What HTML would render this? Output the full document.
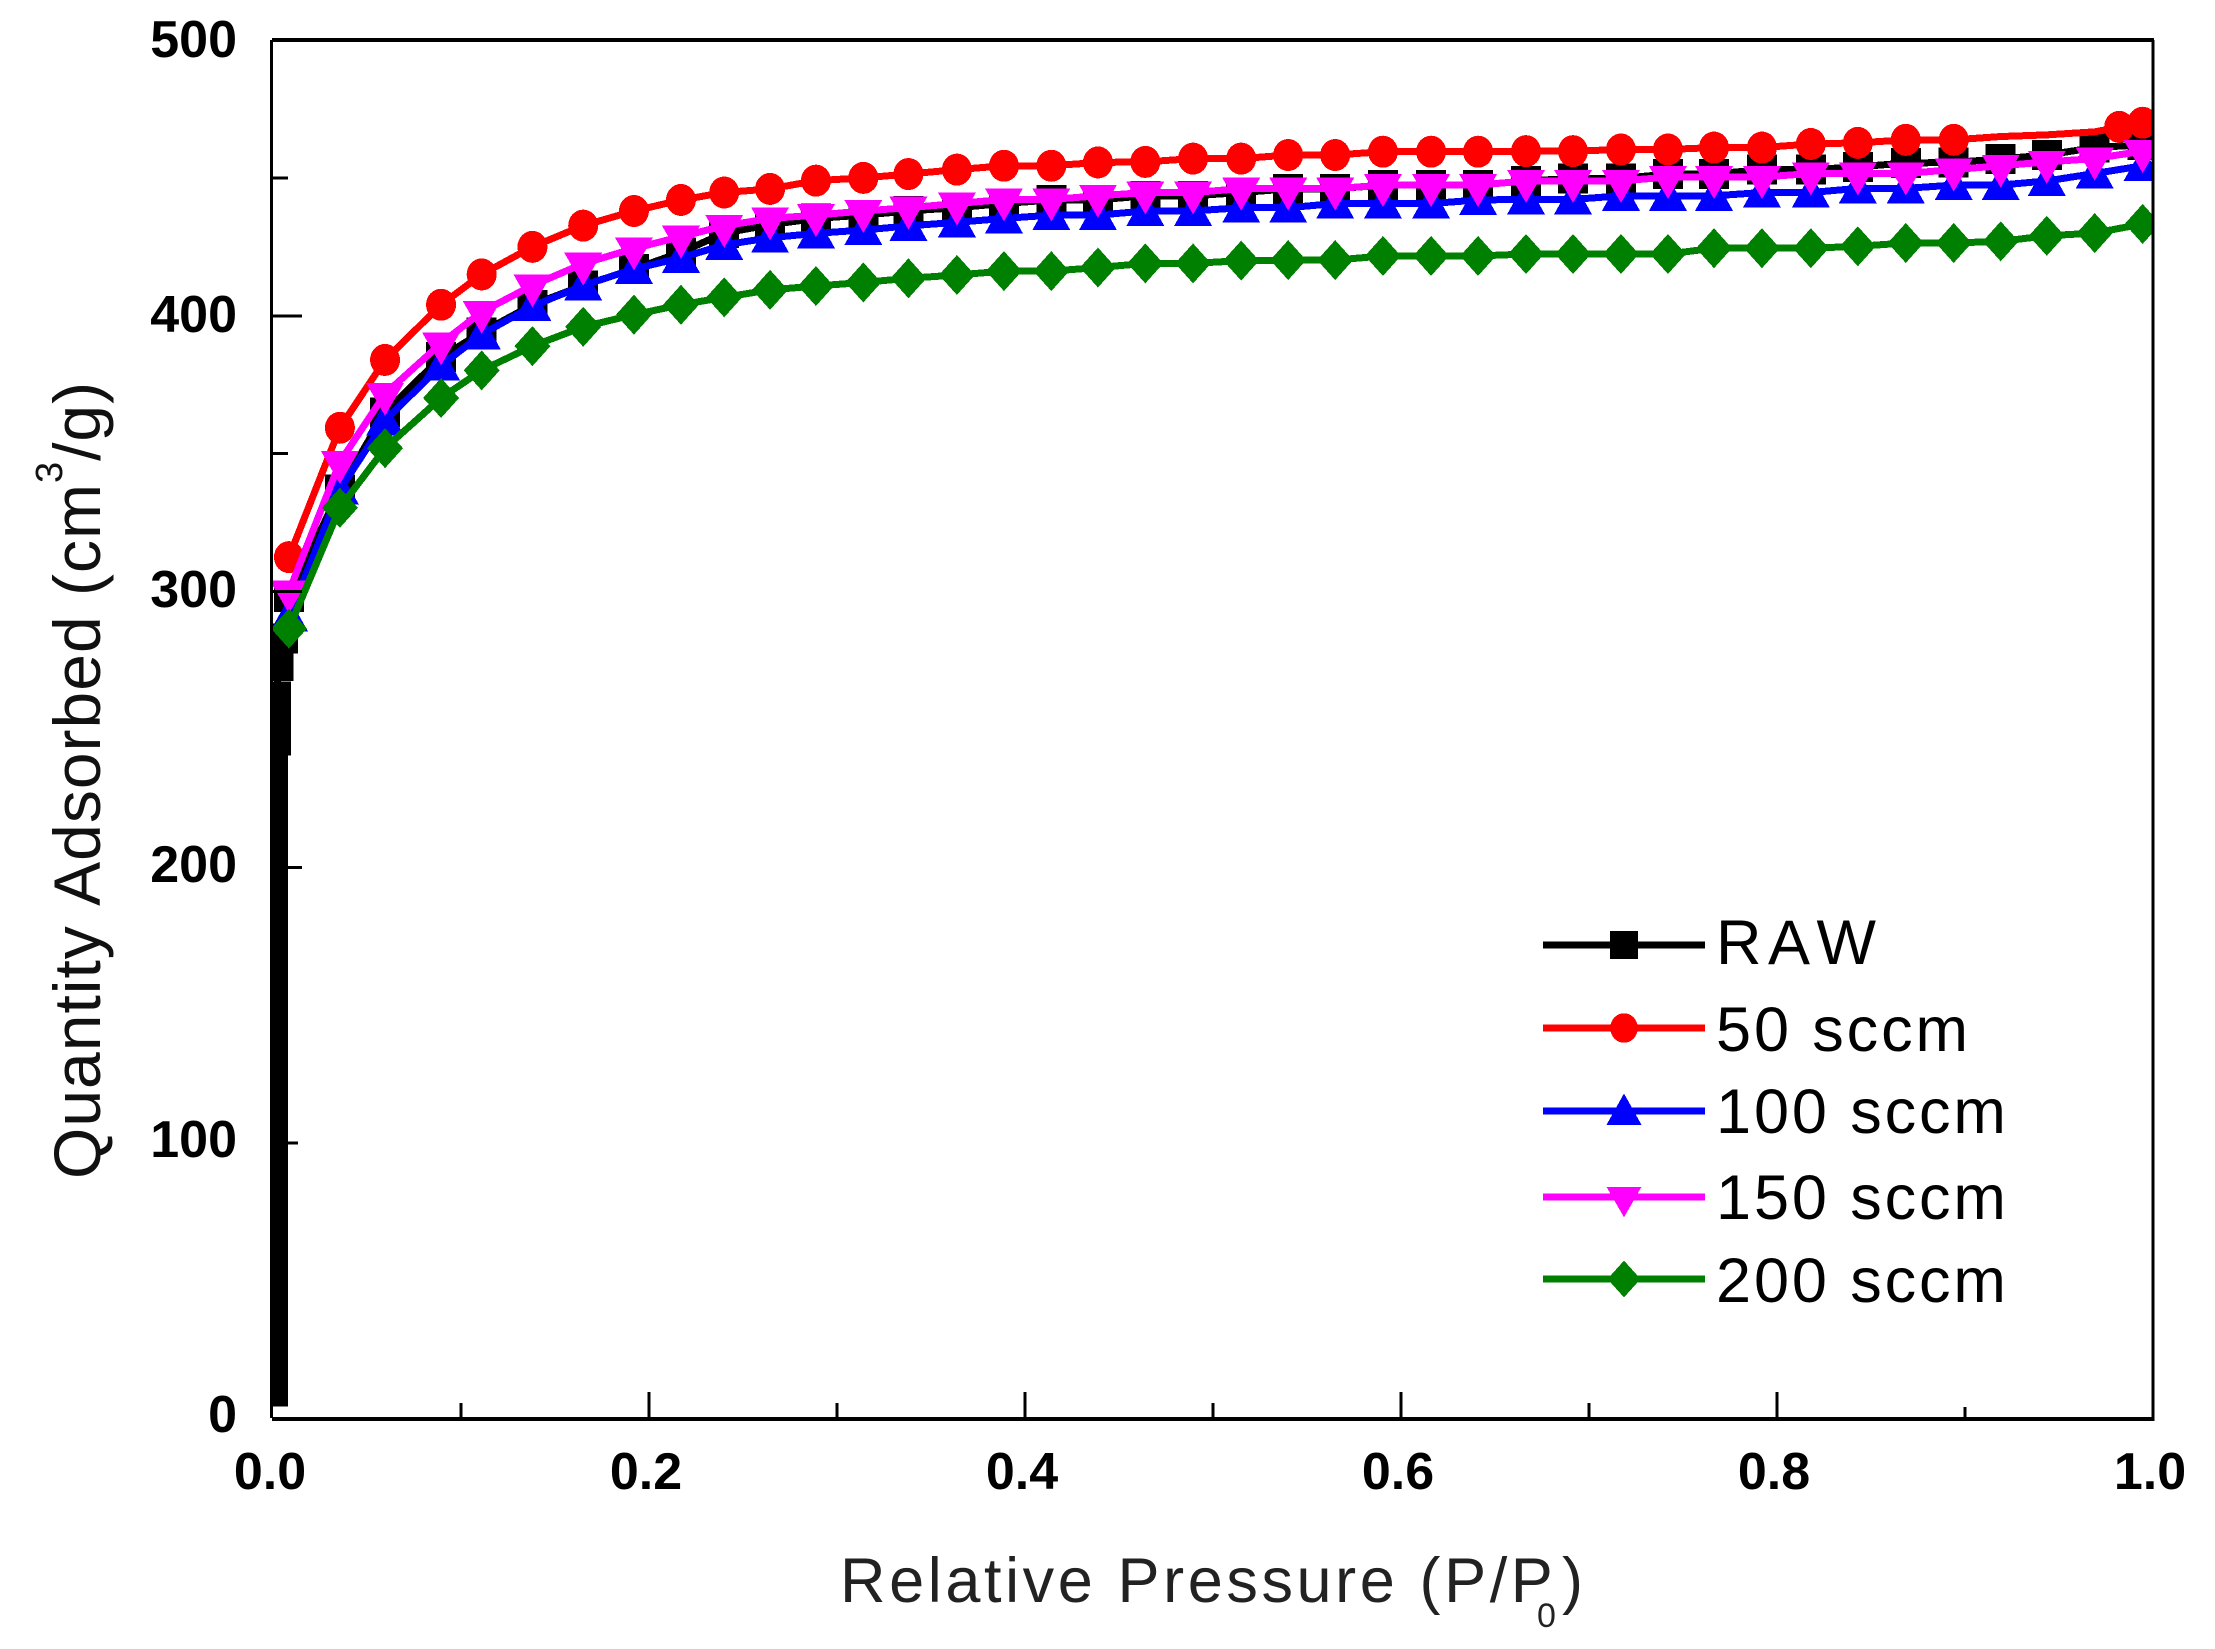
<!DOCTYPE html>
<html lang="en">
<head>
<meta charset="utf-8">
<title>Nitrogen adsorption isotherms</title>
<style>
html,body{margin:0;padding:0;background:#fff;width:2215px;height:1649px;overflow:hidden}
svg{display:block;position:absolute;left:0;top:0}
text{font-family:"Liberation Sans",Arial,sans-serif;font-kerning:none}
</style>
</head>
<body>
<svg id="chart" xmlns="http://www.w3.org/2000/svg" width="2215" height="1649" viewBox="0 0 2215 1649">
  <rect x="0" y="0" width="2215" height="1649" fill="#fff"/>
  <defs>
    <clipPath id="plot-clip"><rect x="272" y="40" width="1880" height="1379"/></clipPath>
  </defs>
  <g id="series-layer" clip-path="url(#plot-clip)"></g>
  <g id="axis-layer"></g>
  <text transform="translate(100,1179) rotate(-90)" font-size="66" letter-spacing="1" fill="#111">Quantity Adsorbed (cm<tspan font-size="38" dy="-38">3</tspan><tspan dy="38">/g)</tspan></text>
  <text font-size="63" letter-spacing="3.6" fill="#222"><tspan x="840" y="1602">Relative Pressure (P/P</tspan><tspan x="1537" y="1627" font-size="34" letter-spacing="0">0</tspan><tspan x="1562" y="1602">)</tspan></text>
  <g id="legend"></g>
</svg>
<script>
const SVG_NS = 'http://www.w3.org/2000/svg';

// ---- Chart data ----
const xMajorTicks = [0, 0.2, 0.4, 0.6, 0.8, 1.0];
const xMinorTicks = [0.1, 0.3, 0.5, 0.7, 0.9];
const xTickLabels = ['0.0', '0.2', '0.4', '0.6', '0.8', '1.0'];
const yMajorTicks = [0, 100, 200, 300, 400, 500];
const yMinorTicks = [50, 150, 250, 350, 450];
const yTickLabels = ['0', '100', '200', '300', '400', '500'];

const pressure = [0.0085,0.0356,0.0596,0.0894,0.111,0.138,0.165,0.192,0.217,0.240,0.2644,0.2888,0.314,0.338,0.3638,0.3888,0.414,0.4388,0.464,0.4894,0.515,0.540,0.565,0.5904,0.616,0.641,0.6665,0.6915,0.717,0.742,0.7665,0.792,0.818,0.843,0.8685,0.894,0.919,0.9435,0.969,0.9945];
const rawLowPressure = [0.0001,0.0001,0.0001,0.0001,0.0001,0.0001,0.0001,0.0001,0.0001,0.0001,0.0001,0.0001,0.0001,0.0001,0.0001,0.0001,0.0001,0.0001,0.0001,0.0001,0.0001,0.0001,0.0001,0.0001,0.0001,0.0016,0.0016,0.0016,0.003,0.0053];
const rawLowValues = [10,19,29,38,48,57,67,76,86,96,105,115,125,134,144,154,164,173,183,193,202,211,220,229,238,246,254,262,273,283];

const rawValues = [298,337,365,385,394,404,411,417,423,430,433,435.3,436.5,438,439.2,440.7,442,442,443.5,443.5,444.7,446,446,447.4,447.4,447.4,448.9,449.8,449.8,451.4,451.4,453,453,454,455.4,455.6,456.9,458.3,461,462];
const sccm50Values = [312.5,359.4,384,404,415,425,432.7,438,442,444.7,446,449,450,451.4,453,454.4,454.4,455.6,455.8,457,457,458.3,458.3,459.5,459.5,459.5,459.7,459.7,460.3,460.3,461,461,462.3,462.7,463.8,463.8,465,465.6,466.7,470];
const sccm50EndPressure = [0.982, 0.9945];
const sccm50EndValues = [468.5, 470];
const sccm100Values = [291,337,362,382,393.3,403.5,411,417,421,425.7,428.3,429.9,431.1,432.6,433.9,435.3,436.5,436.5,438,438,439.2,439.2,440.7,440.7,440.7,442,442.2,442.2,443.5,443.5,443.5,444.7,444.7,446.2,446.2,447.4,447.4,448.9,451.6,454.4];
const sccm150Values = [300,347,371.7,390,401.4,411,418.9,424.4,428.7,432.6,435.3,436.5,438,439.2,440.7,442.2,442.2,443.5,444.7,444.7,446.1,446.1,446.1,447.4,447.4,447.4,448.9,448.9,448.9,450.3,450.3,450.3,451.6,451.6,451.6,453,454.4,455.8,457,459.7];
const sccm200Values = [286.6,330.4,352,370.2,380.2,389,396,400.4,404,406.7,409.4,410.8,412.1,413.6,414.8,416.2,416.2,417.5,419,419,420,420.2,420.2,421.7,421.7,421.7,422.4,422.4,422.4,422.4,424.5,424.5,424.5,425.2,426.4,426.4,427,429,430,433.3];

// Indices of the 50 sccm points whose markers do not show in the picture
const sccm50HiddenMarkers = [36, 37, 38, 39];

const legendLabels = ['RAW', '50 sccm', '100 sccm', '150 sccm', '200 sccm'];

// ---- Axis functions ----
function xScale(v) { return 273 + v * 1880; }
function yScale(v) { return 1419 - v * 2.758; }
function yLabelBaseline(v) { return 1432 - v * 2.75; }

function el(tag, attrs, parent) {
  const node = document.createElementNS(SVG_NS, tag);
  for (const k in attrs) node.setAttribute(k, attrs[k]);
  parent.appendChild(node);
  return node;
}

// Marker shapes: returned as path data around a centre point
function markerPath(kind, cx, cy, s) {
  if (kind === 'square') {
    const h = 15 * s;
    return `M${cx-h} ${cy-h}H${cx+h}V${cy+h}H${cx-h}Z`;
  }
  if (kind === 'circle') {
    const rx = 15 * s, ry = 16 * s;
    return `M${cx-rx} ${cy}A${rx} ${ry} 0 1 0 ${cx+rx} ${cy}A${rx} ${ry} 0 1 0 ${cx-rx} ${cy}Z`;
  }
  if (kind === 'up') {
    const hw = 19 * s;
    return `M${cx} ${cy-19*s}L${cx+hw} ${cy+15*s}H${cx-hw}Z`;
  }
  if (kind === 'down') {
    const hw = 19 * s;
    return `M${cx} ${cy+22*s}L${cx+hw} ${cy-11*s}H${cx-hw}Z`;
  }
  const hw = 18 * s, hh = 20 * s;
  return `M${cx} ${cy-hh}L${cx+hw} ${cy}L${cx} ${cy+hh}L${cx-hw} ${cy}Z`;
}

// ---- Axes ----
const axisLayer = document.getElementById('axis-layer');

function addLine(x1, y1, x2, y2, w, name) {
  const line = el('line', {x1, y1, x2, y2, stroke: '#000', 'stroke-width': w, 'shape-rendering': 'crispEdges'}, axisLayer);
  
  
}

addLine(271.5, 40, 271.5, 1418, 3, 'left-axis-line');
addLine(272, 40, 2154, 40, 4, 'top-axis-line');
addLine(2153, 40, 2153, 1421, 3, 'right-axis-line');
addLine(272, 1419, 2154, 1419, 4, 'bottom-axis-line');

xMajorTicks.forEach(function (v) {
  if (v > 0 && v < 1) addLine(xScale(v), 1419, xScale(v), 1392, 3, 'x-major-tick');
});
xMinorTicks.forEach(function (v) {
  addLine(xScale(v), 1419, xScale(v), v === 0.9 ? 1407 : 1403, 3, 'x-minor-tick');
});
yMajorTicks.forEach(function (v) {
  if (v > 0 && v < 500) addLine(272, yScale(v), v === 100 ? 298 : 302, yScale(v), 3, 'y-major-tick');
});
yMinorTicks.forEach(function (v) {
  addLine(272, yScale(v), 288, yScale(v), 3, 'y-minor-tick');
});

xMajorTicks.forEach(function (v, i) {
  const t = el('text', {x: xScale(v) - 3, y: 1489, 'font-size': 52, 'font-weight': 'bold', 'text-anchor': 'middle', fill: '#000'}, axisLayer);
  
  
  t.textContent = xTickLabels[i];
});
yMajorTicks.forEach(function (v, i) {
  const t = el('text', {x: 237, y: yLabelBaseline(v), 'font-size': 52, 'font-weight': 'bold', 'text-anchor': 'end', fill: '#000'}, axisLayer);
  
  
  t.textContent = yTickLabels[i];
});

// ---- Series ----
const seriesLayer = document.getElementById('series-layer');

function drawSeries(name, color, kind, xs, ys, hidden) {
  const g = el('g', {}, seriesLayer);
  
  
  const pts = xs.map(function (x, i) { return xScale(x) + ',' + yScale(ys[i]); }).join(' ');
  const line = el('polyline', {points: pts, fill: 'none', stroke: color, 'stroke-width': 7, 'shape-rendering': 'crispEdges'}, g);
  
  
  xs.forEach(function (x, i) {
    if (hidden.indexOf(i) !== -1) return;
    const d = markerPath(kind, xScale(x), yScale(ys[i]), 1);
    const mark = el('path', {d: d, fill: color, 'shape-rendering': 'crispEdges'}, g);
    
    
  });
}

drawSeries('raw', '#000000', 'square', rawLowPressure.concat(pressure), rawLowValues.concat(rawValues), []);
drawSeries('50-sccm', '#ff0000', 'circle', pressure, sccm50Values, sccm50HiddenMarkers);
drawSeries('50-sccm-end', '#ff0000', 'circle', sccm50EndPressure, sccm50EndValues, []);
drawSeries('100-sccm', '#0000ff', 'up', pressure, sccm100Values, []);
drawSeries('150-sccm', '#ff00ff', 'down', pressure, sccm150Values, []);
drawSeries('200-sccm', '#008000', 'diamond', pressure, sccm200Values, []);

// ---- Legend ----
const legend = document.getElementById('legend');
const legendColors = ['#000000', '#ff0000', '#0000ff', '#ff00ff', '#008000'];
const legendKinds = ['square', 'circle', 'up', 'down', 'diamond'];
const legendLineY = [945, 1028, 1111, 1197, 1279];
const legendTextY = [964, 1051, 1133, 1219, 1302];
const legendSpacing = [6.5, 2.9, 2.9, 2.9, 2.9];

legendLabels.forEach(function (label, i) {
  const g = el('g', {}, legend);
  
  
  const ln = el('line', {x1: 1543, y1: legendLineY[i], x2: 1705, y2: legendLineY[i], stroke: legendColors[i], 'stroke-width': 7, 'shape-rendering': 'crispEdges'}, g);
  
  
  const mk = el('path', {d: markerPath(legendKinds[i], 1624, legendLineY[i], 0.92), fill: legendColors[i], 'shape-rendering': 'crispEdges'}, g);
  
  
  const tx = el('text', {x: 1716, y: legendTextY[i], 'font-size': 63, 'letter-spacing': legendSpacing[i], fill: '#000'}, g);
  
  
  tx.textContent = label;
});
</script>
</body>
</html>
